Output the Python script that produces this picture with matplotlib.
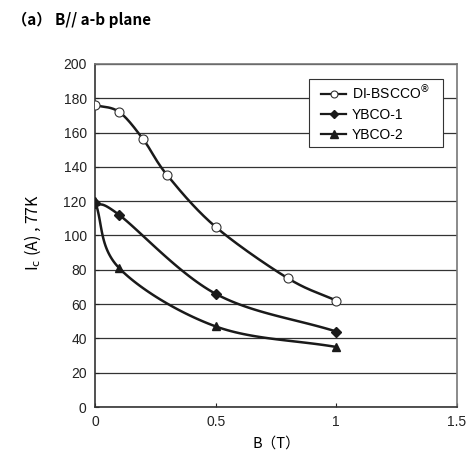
import numpy as np
import matplotlib
matplotlib.use("Agg")
import matplotlib.pyplot as plt
from matplotlib.patches import Rectangle

bscco_x = [0, 0.1, 0.2, 0.3, 0.5, 0.8, 1.0]
bscco_y = [176, 172, 156, 135, 105, 75, 62]
ybco1_x = [0, 0.1, 0.5, 1.0]
ybco1_y = [119, 112, 66, 44]
ybco2_x = [0, 0.1, 0.5, 1.0]
ybco2_y = [120, 81, 47, 35]

x_ticks = [0, 0.5, 1, 1.5]
x_ticklabels = ["0", "0.5", "1", "1.5"]
y_ticks = list(range(0, 201, 20))


def smooth(xs, ys, n=30):
    # Catmull-Rom style smoothing of the connecting line (like Excel smoothed line)
    xs = np.asarray(xs, float); ys = np.asarray(ys, float)
    px = np.concatenate([[2*xs[0]-xs[1]], xs, [2*xs[-1]-xs[-2]]])
    py = np.concatenate([[2*ys[0]-ys[1]], ys, [2*ys[-1]-ys[-2]]])
    ox, oy = [], []
    for i in range(1, len(px)-2):
        p0 = np.array([px[i-1], py[i-1]]); p1 = np.array([px[i], py[i]])
        p2 = np.array([px[i+1], py[i+1]]); p3 = np.array([px[i+2], py[i+2]])
        c1 = p1 + (p2 - p0) / 6.0
        c2 = p2 - (p3 - p1) / 6.0
        t = np.linspace(0, 1, n)[:, None]
        b = (1-t)**3*p1 + 3*(1-t)**2*t*c1 + 3*(1-t)*t**2*c2 + t**3*p2
        ox.extend(b[:, 0]); oy.extend(b[:, 1])
    return ox, oy


plt.rcParams['font.family'] = ['Liberation Sans', 'DejaVu Sans']
fig = plt.figure(figsize=(4.75, 4.7), dpi=100)
ax = fig.add_axes([0.2, 0.134, 0.762, 0.73])

for xs, ys in [(bscco_x, bscco_y), (ybco1_x, ybco1_y), (ybco2_x, ybco2_y)]:
    sx, sy = smooth(xs, ys)
    ax.plot(sx, sy, color='#1a1a1a', lw=1.8, zorder=3)

ax.plot(bscco_x, bscco_y, ls='none', marker='o', ms=6.5, mfc='white', mec='#333333', mew=0.8, zorder=4)
ax.plot(ybco1_x, ybco1_y, ls='none', marker='D', ms=5.2, color='#1a1a1a', zorder=4)
ax.plot(ybco2_x, ybco2_y, ls='none', marker='^', ms=6.3, color='#1a1a1a', zorder=4)

# legend box
bx0, bx1, by0, by1 = 0.591, 0.961, 0.759, 0.956
ax.add_patch(Rectangle((bx0, by0), bx1 - bx0, by1 - by0, transform=ax.transAxes,
                       facecolor='white', edgecolor='#333333', lw=0.8, zorder=4.5))

h1, = ax.plot([], [], color='#1a1a1a', lw=1.6, marker='o', ms=5, mfc='white', mec='#333333', mew=0.8)
h2, = ax.plot([], [], color='#1a1a1a', lw=1.6, marker='D', ms=4.5)
h3, = ax.plot([], [], color='#1a1a1a', lw=1.6, marker='^', ms=5.5)
leg = ax.legend([h1, h2, h3], ["DI-BSCCO$^{\\circledR}$", "YBCO-1", "YBCO-2"],
                loc='center', bbox_to_anchor=((bx0 + bx1) / 2, (by0 + by1) / 2),
                borderaxespad=0, frameon=False, fontsize=10,
                handlelength=1.75, borderpad=0.2, labelspacing=0.42, handletextpad=0.45)
leg.set_zorder(5)

ax.set_xlim(0, 1.5)
ax.set_ylim(0, 200)
ax.set_xticks(x_ticks)
ax.set_xticklabels(x_ticklabels)
ax.set_yticks(y_ticks)
ax.tick_params(direction='in', length=3, labelsize=10, colors='#222222', pad=6)
ax.yaxis.grid(True, color='#333333', lw=0.9)
ax.set_axisbelow(True)
for s in ['top', 'right']:
    ax.spines[s].set_color('#777777')
    ax.spines[s].set_linewidth(1.2)
for s in ['left', 'bottom']:
    ax.spines[s].set_color('#333333')
    ax.spines[s].set_linewidth(1.2)

cjk = ['Noto Sans CJK JP', 'DejaVu Sans']
ax.set_xlabel('B（T）', family=cjk, fontsize=10.5, labelpad=5)
ax.set_ylabel('I$_{\\mathrm{c}}$ (A) , 77K', family=cjk, fontsize=11.5)
ax.yaxis.set_label_coords(-0.145, 0.51)
fig.text(0.025, 0.957, '（a） B// a-b plane', family=cjk, fontsize=11, fontweight='semibold', va='center')

fig.savefig('out.png', dpi=100)
